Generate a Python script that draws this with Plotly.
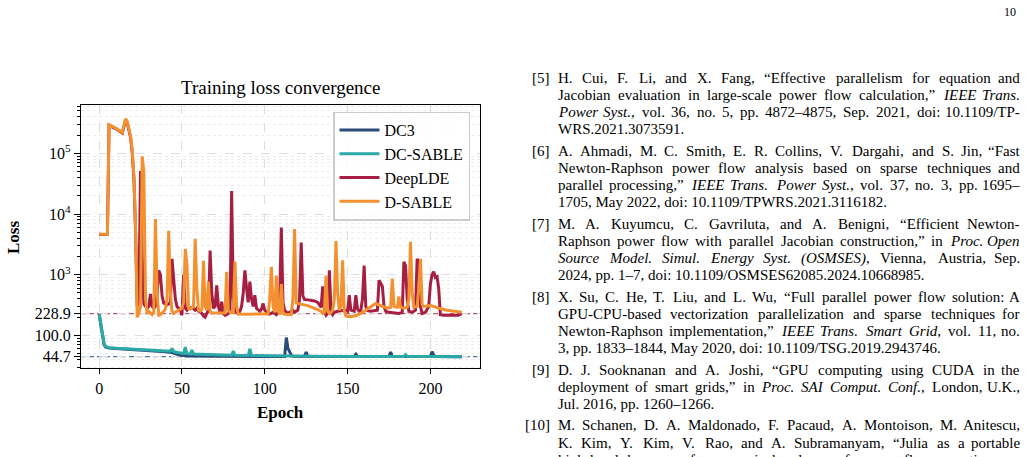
import plotly.graph_objects as go

# ---------------- data ----------------
dc3_epochs = [0, 1, 2, 3, 4, 5, 6, 10, 20, 30,
              40, 44, 48, 53, 60, 80, 100, 112, 113, 114,
              115, 116, 117, 124, 125, 126, 154, 155, 156, 175,
              176, 177, 200, 201, 202, 203, 219]
dc3_loss = [225, 145, 92, 70, 64, 62.5, 62, 61, 59, 57,
            54, 52, 48, 45.8, 45.5, 45.3, 45, 45, 92, 62,
            52, 47, 45.2, 45, 53, 45, 45, 49, 45, 45,
            53, 45, 45, 54, 47, 45, 44.5]

dcs_epochs = [0, 1, 2, 3, 4, 5, 6, 10, 20, 30,
              40, 43, 44, 45, 50, 51, 52, 53, 55, 56,
              57, 60, 70, 80, 81, 82, 90, 91, 92, 100,
              110, 130, 160, 184, 185, 186, 200, 219]
dcs_loss = [225, 150, 95, 72, 65, 63, 62.5, 61.5, 59.5, 57.5,
            55.5, 55, 61, 54, 51, 50.5, 64, 50, 49.5, 57,
            49.5, 49, 48, 47, 55, 47, 46.5, 60, 46.5, 46,
            45.5, 45.2, 45, 45, 48, 45, 45, 44.7]

deep_epochs = [0, 5, 6, 10, 14, 16, 17, 18, 19, 20,
               21, 22, 23, 24, 25, 26, 27, 28, 29, 30,
               31, 32, 33, 34, 35, 36, 37, 38, 39, 40,
               41, 42, 43, 44, 45, 46, 47, 48, 49, 50,
               51, 52, 53, 54, 55, 56, 57, 58, 59, 60,
               61, 62, 63, 64, 65, 66, 67, 68, 69, 70,
               71, 72, 73, 74, 75, 76, 77, 78, 79, 80,
               81, 82, 83, 84, 85, 86, 87, 88, 89, 90,
               91, 92, 93, 94, 95, 96, 97, 98, 99, 100,
               101, 102, 103, 104, 105, 106, 107, 108, 109, 110,
               111, 112, 113, 114, 115, 116, 117, 118, 119, 120,
               121, 122, 123, 124, 126, 128, 130, 132, 133, 134,
               135, 136, 137, 138, 139, 140, 141, 142, 144, 146,
               148, 150, 151, 152, 154, 155, 156, 157, 158, 159,
               160, 161, 162, 164, 166, 168, 169, 170, 171, 172,
               173, 175, 178, 181, 183, 184, 185, 186, 187, 189,
               191, 192, 193, 194, 195, 197, 199, 200, 201, 202,
               203, 204, 205, 206, 208, 211, 214, 217, 219]
deep_loss = [4600, 4600, 285000, 255000, 215000, 360000, 320000, 250000, 180000, 100000,
             38000, 5000, 300, 400, 51000, 2000, 330, 300, 280, 300,
             480, 300, 280, 300, 500, 1180, 1000, 450, 340, 330,
             320, 330, 350, 1830, 800, 400, 300, 280, 260, 215,
             1000, 280, 260, 290, 280, 290, 270, 260, 280, 250,
             240, 230, 210, 200, 230, 260, 2500, 500, 280, 300,
             670, 300, 240, 360, 230, 215, 220, 230, 250, 24000,
             400, 260, 240, 230, 250, 300, 500, 1180, 600, 350,
             770, 400, 300, 460, 280, 260, 250, 270, 335, 260,
             240, 230, 225, 230, 240, 230, 220, 240, 400, 6000,
             350, 260, 240, 230, 240, 250, 260, 240, 250, 260,
             400, 3400, 450, 390, 385, 380, 370, 350, 320, 290,
             640, 250, 215, 230, 1180, 250, 220, 240, 250, 255,
             260, 250, 460, 260, 250, 460, 270, 250, 260, 400,
             1420, 300, 255, 250, 255, 260, 810, 700, 640, 300,
             250, 240, 235, 230, 240, 1630, 1400, 400, 250, 240,
             260, 1830, 1600, 300, 230, 240, 300, 700, 1000, 1120,
             900, 930, 600, 220, 215, 215, 212, 215, 230]

ds_epochs = [0, 5, 6, 10, 14, 16, 17, 18, 19, 20,
             21, 22, 23, 24, 25, 26, 27, 28, 29, 30,
             31, 32, 33, 34, 35, 36, 37, 38, 39, 40,
             41, 42, 43, 44, 45, 46, 47, 48, 49, 50,
             51, 52, 53, 54, 55, 56, 57, 58, 59, 60,
             61, 62, 63, 64, 65, 66, 67, 68, 72, 76,
             77, 78, 79, 80, 81, 82, 83, 84, 90, 96,
             102, 103, 104, 105, 106, 107, 108, 109, 110, 111,
             112, 114, 116, 117, 118, 119, 122, 126, 130, 134,
             135, 136, 137, 138, 139, 140, 141, 142, 143, 144,
             145, 146, 147, 148, 149, 150, 152, 155, 158, 161,
             164, 167, 170, 174, 176, 177, 178, 180, 181, 182,
             184, 186, 187, 188, 189, 190, 192, 193, 194, 195,
             196, 200, 202, 205, 210, 215, 219]
ds_loss = [4700, 4600, 296000, 260000, 220000, 370000, 330000, 260000, 190000, 110000,
           42000, 6000, 200, 230, 300, 89000, 50000, 400, 230, 250,
           230, 220, 240, 8300, 500, 215, 220, 240, 250, 270,
           400, 5300, 500, 250, 230, 240, 250, 260, 270, 280,
           350, 2660, 1500, 280, 270, 280, 300, 3900, 600, 260,
           250, 260, 1700, 300, 260, 770, 250, 235, 232, 235,
           1120, 260, 240, 235, 240, 1650, 300, 225, 224, 224,
           225, 400, 1350, 300, 240, 970, 260, 220, 700, 230,
           222, 220, 220, 400, 5660, 340, 330, 310, 280, 250,
           230, 240, 970, 250, 230, 240, 260, 400, 3600, 500,
           260, 300, 1720, 250, 210, 205, 205, 210, 230, 260,
           300, 335, 310, 280, 290, 860, 300, 290, 440, 290,
           280, 290, 400, 3470, 500, 290, 300, 600, 1830, 320,
           300, 310, 300, 280, 260, 245, 240]

series_names = ["DC3", "DC-SABLE", "DeepLDE", "D-SABLE"]
series_colors = ["#284b78", "#2aa9a6", "#a61f42", "#f39130"]

ref_levels = [228.9, 44.7]
ref_level_colors = ["rgba(180,60,90,0.85)", "rgba(60,100,150,0.9)"]

x_ticks = [0, 50, 100, 150, 200]
y_tick_vals = [44.7, 100, 228.9, 1000, 10000, 100000]
y_tick_text = ["44.7", "100.0", "228.9", "10<sup>3</sup>", "10<sup>4</sup>", "10<sup>5</sup>"]

refs = [
    ("[5]", ["H. Cui, F. Li, and X. Fang, “Effective parallelism for equation and",
             "Jacobian evaluation in large-scale power flow calculation,” <i>IEEE Trans.</i>",
             "<i>Power Syst.</i>, vol. 36, no. 5, pp. 4872–4875, Sep. 2021, doi: 10.1109/TP-",
             "WRS.2021.3073591."]),
    ("[6]", ["A. Ahmadi, M. C. Smith, E. R. Collins, V. Dargahi, and S. Jin, “Fast",
             "Newton-Raphson power flow analysis based on sparse techniques and",
             "parallel processing,” <i>IEEE Trans. Power Syst.</i>, vol. 37, no. 3, pp. 1695–",
             "1705, May 2022, doi: 10.1109/TPWRS.2021.3116182."]),
    ("[7]", ["M. A. Kuyumcu, C. Gavriluta, and A. Benigni, “Efficient Newton-",
             "Raphson power flow with parallel Jacobian construction,” in <i>Proc. Open</i>",
             "<i>Source Model. Simul. Energy Syst. (OSMSES)</i>, Vienna, Austria, Sep.",
             "2024, pp. 1–7, doi: 10.1109/OSMSES62085.2024.10668985."]),
    ("[8]", ["X. Su, C. He, T. Liu, and L. Wu, “Full parallel power flow solution: A",
             "GPU-CPU-based vectorization parallelization and sparse techniques for",
             "Newton-Raphson implementation,” <i>IEEE Trans. Smart Grid</i>, vol. 11, no.",
             "3, pp. 1833–1844, May 2020, doi: 10.1109/TSG.2019.2943746."]),
    ("[9]", ["D. J. Sooknanan and A. Joshi, “GPU computing using CUDA in the",
             "deployment of smart grids,” in <i>Proc. SAI Comput. Conf.</i>, London, U.K.,",
             "Jul. 2016, pp. 1260–1266."]),
    ("[10]", ["M. Schanen, D. A. Maldonado, F. Pacaud, A. Montoison, M. Anitescu,",
              "K. Kim, Y. Kim, V. Rao, and A. Subramanyam, “Julia as a portable",
              "high-level language for numerical solvers of power flow equations on"]),
]
ref_complete = [True, True, True, True, True, False]

# ---------------- figure ----------------
W, H = 1029, 457
PL, PR, PT, PB = 81, 480, 105, 368.3
SERIF = "Liberation Serif, Times New Roman, serif"

fig = go.Figure()
for name, ep, ls, col in zip(series_names,
                             [dc3_epochs, dcs_epochs, deep_epochs, ds_epochs],
                             [dc3_loss, dcs_loss, deep_loss, ds_loss],
                             series_colors):
    fig.add_trace(go.Scatter(x=ep, y=ls, mode="lines", name=name,
                             line=dict(color=col, width=3)))

for lvl, col in zip(ref_levels, ref_level_colors):
    fig.add_hline(y=lvl, line=dict(color=col, width=1.3, dash="5px,3px"), layer="below")

minor_vals = [k * 10 ** e for e in range(1, 6) for k in range(2, 10)]

fig.update_layout(
    width=W, height=H, margin=dict(l=0, r=0, t=0, b=0),
    paper_bgcolor="white", plot_bgcolor="white",
    font=dict(family=SERIF, color="black", size=16),
    legend=dict(x=333 / W, y=1 - 111.5 / H, xanchor="left", yanchor="top",
                bgcolor="rgba(255,255,255,0.85)", bordercolor="#cccccc", borderwidth=1.5,
                font=dict(family=SERIF, size=16, color="black"), itemwidth=40),
)
fig.update_xaxes(
    domain=[PL / W, PR / W], range=[-10.95, 229.95],
    tickmode="array", tickvals=x_ticks,
    ticks="outside", ticklen=5, tickwidth=1.2, tickcolor="black",
    showline=True, linecolor="black", linewidth=1.3, mirror=True,
    showgrid=True, gridcolor="#dddddd", griddash="dash", gridwidth=1,
    zeroline=False, tickfont=dict(family=SERIF, size=16, color="black"),
)
fig.update_yaxes(
    type="log", domain=[1 - PB / H, 1 - PT / H], range=[1.458, 5.796],
    tickmode="array", tickvals=y_tick_vals, ticktext=y_tick_text,
    ticks="outside", ticklen=6, tickwidth=1.2, tickcolor="black",
    showline=True, linecolor="black", linewidth=1.3, mirror=True,
    showgrid=True, gridcolor="#dddddd", griddash="dash", gridwidth=1,
    zeroline=False, tickfont=dict(family=SERIF, size=16, color="black"),
    minor=dict(tickmode="array", tickvals=minor_vals, ticks="outside", ticklen=3,
               tickwidth=0.8, tickcolor="black", showgrid=True,
               gridcolor="#ececec", griddash="dot", gridwidth=0.8),
)

# ---------------- text ----------------
ROMAN = {' ': 250, '.': 250, ',': 250, ':': 278, ';': 278, '-': 333, '–': 500,
         '“': 444, '”': 444, '(': 333, ')': 333, '/': 278, '[': 333, ']': 333}
for c, w in zip("ABCDEFGHIJKLMNOPQRSTUVWXYZ",
                [722, 667, 667, 722, 611, 556, 722, 722, 333, 389, 722, 611, 889,
                 722, 722, 556, 722, 667, 556, 611, 722, 722, 944, 722, 722, 611]):
    ROMAN[c] = w
for c, w in zip("abcdefghijklmnopqrstuvwxyz",
                [444, 500, 444, 500, 444, 333, 500, 500, 278, 278, 500, 278, 778,
                 500, 500, 500, 500, 333, 389, 278, 500, 500, 722, 500, 500, 444]):
    ROMAN[c] = w
for c in "0123456789":
    ROMAN[c] = 500
ITAL = dict(ROMAN)
for c, w in zip("ABCDEFGHIJKLMNOPQRSTUVWXYZ",
                [611, 611, 667, 722, 611, 611, 722, 722, 333, 444, 667, 556, 833,
                 667, 722, 611, 722, 611, 500, 556, 722, 611, 833, 611, 556, 556]):
    ITAL[c] = w
for c, w in zip("abcdefghijklmnopqrstuvwxyz",
                [500, 500, 444, 500, 444, 278, 500, 500, 278, 278, 444, 278, 722,
                 500, 500, 500, 500, 389, 389, 278, 500, 444, 667, 444, 444, 389]):
    ITAL[c] = w

FS = 15
TEXT_L, TEXT_R = 556.5, 1021.0


def words_of(line):
    chars = []
    ital = False
    i = 0
    while i < len(line):
        if line.startswith("<i>", i):
            ital = True
            i += 3
            continue
        if line.startswith("</i>", i):
            ital = False
            i += 4
            continue
        chars.append((line[i], ital))
        i += 1
    words, cur = [], []
    for ch, it in chars:
        if ch == " ":
            if cur:
                words.append(cur)
            cur = []
        else:
            cur.append((ch, it))
    if cur:
        words.append(cur)
    out = []
    for wd in words:
        html, width, state = "", 0.0, False
        for ch, it in wd:
            if it and not state:
                html += "<i>"
            if state and not it:
                html += "</i>"
            state = it
            html += ch
            width += (ITAL if it else ROMAN).get(ch, 500) * FS / 1000.0
        if state:
            html += "</i>"
        out.append((html, width))
    return out


ann = []


def txt(text, xpx, ypx, anchor="left", size=FS, **kw):
    d = dict(text=text, x=xpx / W, y=1 - ypx / H, xref="paper", yref="paper",
             showarrow=False, xanchor=anchor, yanchor="middle", borderpad=0,
             font=dict(family=SERIF, size=size, color="black"))
    d.update(kw)
    ann.append(d)


txt("Training loss convergence", (PL + PR) / 2, 87.5, "center", 19)
txt("<b>Epoch</b>", (PL + PR) / 2, 412, "center", 17)
txt("<b>Loss</b>", 13, 238, "center", 17, textangle=-90)
txt("10", 1017, 12, "right", 12)

LINE, GAP, Y0 = 17.1, 4.5, 78.0
row = 0
for ri, (label, lines) in enumerate(refs):
    for li, line in enumerate(lines):
        yc = Y0 + row * LINE + ri * GAP
        if li == 0:
            txt(label, 551, yc, "right")
        last = (li == len(lines) - 1) and ref_complete[ri]
        if last:
            txt(line, TEXT_L, yc, "left")
        else:
            wl = words_of(line)
            total = sum(w for _, w in wl)
            gap = (TEXT_R - TEXT_L - total) / (len(wl) - 1)
            xcur = TEXT_L
            for k, (html, w) in enumerate(wl):
                if k == len(wl) - 1:
                    txt(html, TEXT_R, yc, "right")
                else:
                    txt(html, xcur, yc, "left")
                xcur += w + gap
        row += 1

fig.update_layout(annotations=ann)
fig.write_html("out.html")
